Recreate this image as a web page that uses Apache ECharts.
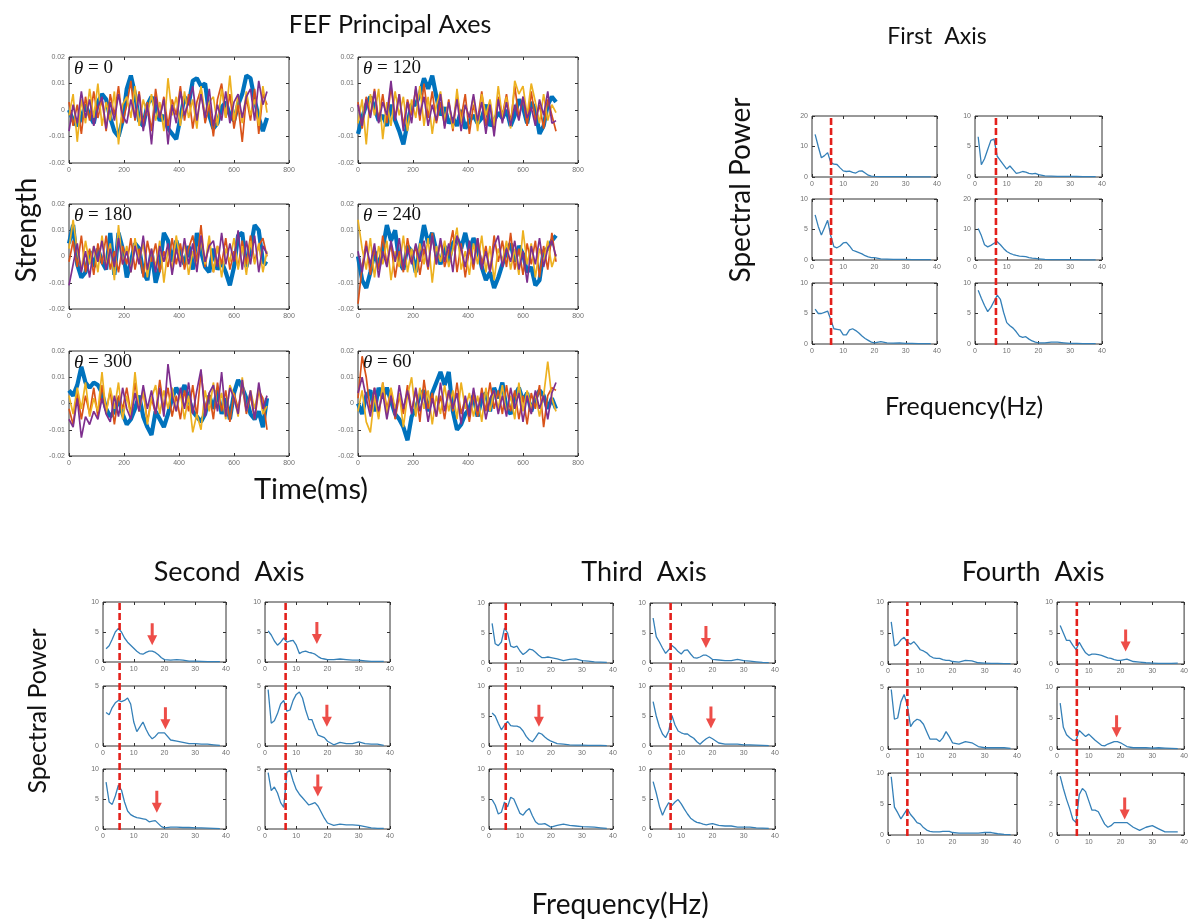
<!DOCTYPE html>
<html><head><meta charset="utf-8">
<script src="https://cdn.jsdelivr.net/npm/echarts@6/dist/echarts.min.js"></script>
<style>html,body{margin:0;padding:0;background:#fff}#c{width:1191px;height:920px}</style>
</head><body><div id="c"></div><script>
// ---------- DATA ----------
// Sample times (ms) of the principal-axis traces
const TIMES = [0,15,30,45,60,75,90,105,120,135,150,165,180,195,210,225,240,255,270,285,300,315,330,345,360,375,390,405,420,435,450,465,480,495,510,525,540,555,570,585,600,615,630,645,660,675,690,705,720];
// Strength values in units of 0.001 (axis labels show the real value)
const t0Blue   = [0,-4,-6,-3,2,-2,-5, 3,6,4,-3,-8,-10,-4, 8,13,6,-4,-6,2,5, 1,-4,-2,-7,-9,-11,-3, 5,2,11,12,9,10,-2, -7,-5,1,3,-2,-4,2, 6,13,12,4,-3,-8,-3];
const t0Orange = [3,-6,2,-9,5,-4,7, -3,4,-8,6,-2,9,-5, 2,11,-4,7,-6,3,-8, 8,-3,5,-6,4,-2,9, -4,6,-7,3,8,-5,2, -10,4,10,-3,6,-7,2, -12,5,-4,8,-9,6,2];
const t0Yellow = [-2,6,-12,4,-5,8,-3, 10,-6,3,-4,7,-13,2, 5,-3,9,-6,4,-2,6, -4,3,-8,12,-2,5,-6, 7,-3,4,-7,9,-2,3, 5,-6,8,-3,13,-4,6, -5,7,-2,4,-6,9,-1];
const t0Purple = [-8,2,-5,7,-3,4,-6, 1,5,-7,3,-4,6,-2, -5,4,-3,6,-8,2,-13, 5,-3,4,-13,2,-5,7, -2,3,9,-4,6,-3,8, -6,2,-4,7,-5,3,6, -3,5,8,-4,11,2,7];

const t120Blue   = [-9,-3,2,5,1,-4,-2, -6,2,-4,-8,-13,-5,2, 2,6,12,8,13,5,-2, 1,-5,-3,-6,0,-7,-4, -2,-5,-3,2,-6,-4,-1, -3,0,-6,-2,4,1,-5, 3,0,-9,-6,2,5,3];
const t120Orange = [3,-7,5,-2,8,-4,6, -5,9,-3,6,-6,4,-2, 8,-4,10,-3,7,-5,3, -6,4,-8,5,-3,6,-9, 2,-4,7,-6,3,-8,5, -2,6,-5,9,-3,5,-6, 7,-4,2,-7,4,-2,-8];
const t120Yellow = [-5,4,-13,6,-2,8,-11, 3,-6,7,-2,5,-8,4, -3,9,-6,5,-9,2,7, -4,3,-7,8,-5,2,-3, 5,-8,6,-2,4,-6,9, -3,5,-7,11,6,9,-2, 10,3,-5,6,-4,2,-1];
const t120Purple = [2,-6,4,-3,7,-5,3, -2,11,-4,6,-8,3,-5, 9,-2,5,-6,2,-4,6, -7,3,-5,4,-8,2,-3, 6,-4,3,-9,2,-10,4, -5,3,-6,2,-4,5,-3, 1,-6,4,-2,7,-5,-4];

const t180Blue   = [5,12,-3,-8,-6,2,-4, 3,-2,-5,9,-7,9,3, -8,-2,5,3,-6,-9,2, -10,-4,9,6,-2,6,1, -3,4,-5,9,2,-4,-6, 3,-5,-2,-6,-11,-4,8, 9,-4,3,12,10,-2,-3];
const t180Orange = [-2,6,-4,8,-6,3,-7, 5,-3,8,-5,2,-6,4, -3,7,-5,3,-8,6,-2, 5,-6,2,-4,7,-3,5, -5,3,8,-2,12,-4,6, -6,4,-3,7,-5,2,-4, 6,-3,8,-2,4,7,0];
const t180Yellow = [3,14,2,-5,6,-3,4, -6,8,-4,5,-9,12,-3, 4,-6,7,-2,5,-8,3, -4,6,-10,3,-5,8,-2, 5,-7,2,-4,6,-3,8, -6,4,-8,3,-2,7,-5, 4,-7,6,-3,5,-6,2];
const t180Purple = [-11,-3,5,-6,2,-8,4, -2,6,-5,3,-4,7,-3, 2,-6,4,-3,8,-5,3, -6,4,-2,5,-7,3,-4, 7,-3,5,-6,8,-2,4, 6,-4,9,-3,5,-2,10, -5,6,-3,8,-6,4,1];

const t240Blue   = [0,-9,-12,-6,2,-4,3, 12,6,10,-2,-5,4,2, -6,3,12,5,9,2,-3, 4,-2,5,7,3,9,2, 7,3,-4,-9,-6,-12,-8, -3,2,5,-2,4,1,-6, -4,-11,-9,2,3,6,8];
const t240Orange = [-18,-4,6,-7,3,-5,8, -3,5,-8,2,-6,7,-2, 4,-7,3,-5,9,-3,6, -4,2,10,-6,5,-8,3, -5,7,-3,4,-6,8,-2, 6,-4,9,-5,3,-7,5, -3,6,-8,4,-5,9,-2];
const t240Yellow = [14,3,-5,7,-8,4,-3, 6,-9,2,-4,8,-6,3, -8,5,-3,7,-10,4,-2, 6,-4,3,11,-5,2,-7, 5,-3,8,-6,4,-9,3, -2,6,-5,3,-7,10,-3, 5,-8,3,-2,6,-4,1];
const t240Purple = [2,-6,4,-3,5,-8,2, -4,6,-2,7,-5,3,-3, 5,-2,6,-4,8,-3,7, -2,5,-6,8,3,-4,6, -3,7,-5,2,-6,4,8, -4,3,-2,6,-5,2,-10, 4,-3,7,-4,3,6,0];

const t300Blue   = [5,3,7,14,8,6,8, 7,4,-2,-5,-3,2,-4, -8,-6,-2,3,-5,-9,-12, -3,-6,-9,-4,2,6,3, 7,2,-3,-5,-7,-4,3, -2,5,-4,2,-6,4,9, 6,2,-4,-6,-3,-9,2];
const t300Orange = [-2,-8,4,-6,3,-4,6, -5,7,-3,5,-8,3,-2, 6,-4,8,-3,5,-7,2, -4,9,-2,6,-5,3,-6, 5,-3,7,-5,12,-2,4, -6,8,-3,5,-7,4,-2, 7,-4,3,-6,5,2,-10];
const t300Yellow = [3,-4,6,-2,8,-5,2, -3,12,-4,6,-2,8,-6, 3,-5,12,-3,5,-8,2, 7,-4,5,-2,6,-3,4, -6,3,-11,-4,-10,5,-3, 8,-2,4,-6,7,3,-5, 10,-3,5,-2,6,-4,-1];
const t300Purple = [-6,-9,2,-13,-5,-8,-3, -6,2,-4,-7,3,-5,6, -2,-6,4,-3,7,-2,5, -4,6,-5,15,3,-3,6, -2,8,-4,5,13,-5,4, 7,-3,12,-5,6,2,-4, 9,-3,5,-6,8,-2,3];

const t60Blue   = [0,-4,3,5,-3,6,2, 6,1,-4,-6,-9,-14,-5, -2,3,5,-3,4,8,12, 7,12,-3,-10,-8,-4,-2, 3,-5,2,4,-3,6,2, 8,-2,-4,3,6,1,4, -3,2,5,3,-2,2,-2];
const t60Orange = [2,18,10,-3,6,-5,8, -2,5,-6,3,-4,7,-3, 5,-7,9,-2,4,-5,3, -6,5,-3,8,-4,2,-7, 4,-5,6,-3,8,-2,5, -4,7,-3,5,-6,3,-8, 4,-2,7,-9,3,6,5];
const t60Yellow = [-3,5,-7,-11,3,-6,8, -4,6,-2,4,-9,3,10, -5,6,-2,5,-8,3,-4, 7,-3,5,-6,8,-2,4, -5,3,-7,6,-3,5,-2, 7,-4,3,-6,8,-3,5, -2,4,-5,3,16,2,-3];
const t60Purple = [4,10,2,-5,6,-3,4, -6,3,-5,7,-2,5,-4, 6,-3,4,-7,2,-5,8, -3,5,-2,4,-8,3,-5, 6,-3,4,-6,2,5,-4, 3,-5,6,-2,4,-7,3, -4,5,-2,3,-6,4,8];

// Frequencies (Hz) of the spectra
const FREQ = [1,2,3,4,5,6,7,8,9,10,11,12,13,14,15,16,17,18,19,20,22,24,26,28,30,32,34,36,38];
// Spectral power: panels in reading order TL, TR, ML, MR, BL, BR
const firstTL = [14,10,6.3,7,8,4.8,4.2,4.1,3,2, 1.8,1.9,1.5,1.3,1.9,2,1.3,0.6,0.3,0.2, 0.15,0.1,0.1,0.1,0.08,0.05,0.05,0.05,0.05];
const firstTR = [6.6,2.0,3.0,4.5,6.0,6.2,3.4,2.7,2.0,1.3, 1.8,1.2,0.6,0.7,0.9,0.8,0.6,0.5,0.6,0.4, 0.2,0.15,0.1,0.1,0.1,0.08,0.05,0.05,0.05];
const firstML = [7.4,5.5,4.1,5.3,6.5,4.0,2.2,2.0,2.3,2.8, 2.9,2.3,1.6,1.4,1.2,1.0,0.7,0.5,0.4,0.4, 0.2,0.15,0.1,0.1,0.1,0.05,0.05,0.05,0.05];
const firstMR = [10.3,8,5,4.3,4.8,5.5,6,5,3.8,2.8, 2.2,1.8,1.5,1.3,1.2,1.1,0.8,0.6,0.5,0.4, 0.2,0.15,0.1,0.1,0.1,0.1,0.05,0.05,0.05];
const firstBL = [5.7,5.0,5.0,5.2,5.4,4.0,2.5,2.4,2.3,1.5, 1.5,2.3,2.5,2.2,1.8,1.3,0.9,0.6,0.3,0.2, 0.4,0.2,0.15,0.2,0.1,0.1,0.05,0.05,0.05];
const firstBR = [8.8,7.5,6.3,5.3,6.0,7.0,8.0,7.3,5.2,3.5, 3.0,2.6,2.0,1.3,1.1,1.2,0.8,0.5,0.3,0.2, 0.2,0.3,0.3,0.2,0.1,0.1,0.05,0.05,0.05];

const secondTL = [2.2,2.7,3.8,5.0,5.6,5.0,4.0,3.3,2.8,2.3, 1.8,1.4,1.3,1.6,1.8,1.8,1.6,1.2,0.7,0.4, 0.3,0.4,0.3,0.15,0.15,0.1,0.05,0.05,0.05];
const secondTR = [5.2,4.5,3.5,2.8,3.3,4.0,3.3,3.5,3.6,2.8, 1.4,1.7,1.8,1.6,1.5,1.3,0.9,0.6,0.5,0.4, 0.4,0.5,0.4,0.3,0.3,0.2,0.1,0.1,0.1];
const secondML = [2.8,2.6,3.2,3.6,3.8,3.7,3.8,4.0,3.5,2.0, 1.2,1.6,2.0,1.4,0.9,0.6,0.8,1.1,1.1,1.1, 0.5,0.4,0.3,0.2,0.2,0.15,0.15,0.1,0.05];
const secondMR = [4.7,1.9,2.1,2.7,3.5,3.8,2.9,3.0,3.8,4.3, 4.5,4.0,3.0,2.2,2.2,1.5,0.9,0.8,0.7,0.4, 0.1,0.3,0.2,0.2,0.35,0.2,0.15,0.15,0.05];
const secondBL = [7.8,4.5,4.1,5.5,7.3,6.5,4.5,3.0,2.4,2.1, 1.9,1.8,1.7,1.6,1.2,1.3,1.4,0.9,0.4,0.2, 0.3,0.3,0.25,0.25,0.2,0.2,0.15,0.1,0.05];
const secondBR = [4.7,3.2,3.5,3.0,2.2,1.8,4.7,4.9,4.0,3.3, 2.9,2.6,2.3,2.0,2.1,2.2,1.9,1.4,0.9,0.5, 0.3,0.4,0.35,0.35,0.3,0.2,0.1,0.05,0.05];

const thirdTL = [6.6,3.2,2.9,3.5,5.8,5.0,2.8,2.6,2.8,2.0, 1.4,1.8,2.3,2.2,1.8,1.3,0.9,0.9,1.0,0.9, 0.7,0.4,0.6,0.7,0.4,0.3,0.2,0.15,0.1];
const thirdTR = [7.5,4.4,3.5,2.5,1.6,2.2,2.9,2.5,1.9,1.5, 2.1,2.2,1.5,0.9,0.8,1.0,1.3,1.3,1.0,0.6, 0.5,0.4,0.4,0.6,0.4,0.3,0.2,0.1,0.05];
const thirdML = [5.5,5.0,3.8,2.7,3.5,4.1,3.4,3.3,3.3,3.1, 2.5,1.6,1.0,0.7,1.4,2.2,2.0,1.5,1.1,0.8, 0.4,0.3,0.2,0.15,0.15,0.1,0.1,0.1,0.05];
const thirdMR = [7.4,5.0,3.2,2.0,1.4,2.5,5.1,3.5,2.5,2.2, 2.0,2.0,1.6,1.3,0.7,0.3,0.8,1.2,1.5,1.2, 0.5,0.3,0.3,0.3,0.2,0.2,0.15,0.1,0.05];
const thirdBL = [4.9,4.0,2.5,2.8,4.5,3.7,5.3,5.0,3.8,2.6, 2.3,3.0,3.4,2.2,1.2,0.8,0.8,0.9,0.6,0.3, 0.6,0.8,0.6,0.5,0.4,0.35,0.3,0.2,0.1];
const thirdBR = [7.9,6.0,3.8,2.3,3.5,4.4,3.9,4.5,4.9,4.2, 3.3,2.5,1.8,1.4,1.1,1.0,0.8,0.7,0.8,0.9, 0.6,0.5,0.5,0.3,0.3,0.3,0.2,0.15,0.1];

const fourthTL = [6.8,2.9,3.2,3.9,4.3,3.5,3.2,3.6,3.0,2.3, 2.1,1.8,1.3,1.0,0.9,0.9,0.7,0.6,0.6,0.4, 0.3,0.6,0.5,0.2,0.15,0.1,0.1,0.05,0.05];
const fourthTR = [6.2,5.0,3.8,3.8,3.0,2.3,3.5,2.6,1.8,1.4, 1.6,1.6,1.5,1.4,1.2,1.0,0.9,0.7,0.6,0.6, 0.8,0.4,0.3,0.2,0.15,0.1,0.1,0.1,0.15];
const fourthML = [4.8,2.4,2.5,3.8,4.4,3.5,1.8,2.2,2.4,2.3, 2.0,1.4,0.8,0.8,0.8,0.6,0.9,1.4,1.0,0.5, 0.4,0.6,0.5,0.2,0.1,0.1,0.1,0.1,0.05];
const fourthMR = [7.4,3.5,2.3,1.8,1.4,1.4,3.0,2.5,2.0,2.4, 1.9,1.4,1.0,0.6,0.5,0.8,1.0,1.2,1.2,1.0, 0.4,0.2,0.2,0.2,0.15,0.2,0.15,0.1,0.05];
const fourthBL = [9.4,4.5,3.6,2.6,3.4,4.2,3.3,2.7,2.0,1.8, 1.2,0.8,0.6,0.5,0.5,0.5,0.6,0.6,0.6,0.4, 0.3,0.3,0.3,0.3,0.4,0.4,0.2,0.1,0.05];
const fourthBR = [3.8,3.0,2.3,1.7,1.0,0.8,2.6,3.0,2.8,2.2, 1.6,1.6,1.5,1.1,0.7,0.5,0.6,0.8,0.8,0.8, 0.8,0.5,0.3,0.5,0.6,0.4,0.2,0.2,0.2];

// y-axis maxima of each spectral panel
const firstYMax  = [20,10,10,20,10,10];
const secondYMax = [10,10,5,5,10,5];
const thirdYMax  = [10,10,10,10,10,10];
const fourthYMax = [10,10,5,10,10,4];
// red dashed reference frequency (left column, right column)
const firstRed  = [6.1,6.6];
const secondRed = [5.4,6.6];
const thirdRed  = [5.4,6.6];
const fourthRed = [6.0,6.2];
// red arrows: [frequency, arrow tip value] per panel (null = none)
const secondArrows = [[16,2.8],[16.6,3.0],[20.3,1.4],[19.8,1.6],[17.5,2.7],[16.9,2.7]];
const thirdArrows  = [null,[17.9,2.5],[16.1,3.2],[19.5,2.9],null,null];
const fourthArrows = [null,[21.6,2.0],null,[18.75,1.9],null,[21.3,1.0]];

// ---------- LAYOUT / STYLE ----------
const TS_STYLE = [{c:'#0072BD',w:4.2},{c:'#D95319',w:1.7},{c:'#EDB120',w:1.7},{c:'#7E2F8E',w:1.7}];
const timePanels = [
  {label:'0',   box:[69,57,220,106],  lines:[t0Blue,t0Orange,t0Yellow,t0Purple]},
  {label:'120', box:[358,57,220,106], lines:[t120Blue,t120Orange,t120Yellow,t120Purple]},
  {label:'180', box:[69,204,220,105], lines:[t180Blue,t180Orange,t180Yellow,t180Purple]},
  {label:'240', box:[358,204,220,105],lines:[t240Blue,t240Orange,t240Yellow,t240Purple]},
  {label:'300', box:[69,351,220,105], lines:[t300Blue,t300Orange,t300Yellow,t300Purple]},
  {label:'60',  box:[358,351,220,105],lines:[t60Blue,t60Orange,t60Yellow,t60Purple]}
];
const specGroups = [
  {cols:[812,975], widths:[125,127], rows:[116,199,283], h:61,
   panels:[firstTL,firstTR,firstML,firstMR,firstBL,firstBR], ymax:firstYMax, red:firstRed, arrows:[null,null,null,null,null,null]},
  {cols:[103,265], widths:[123,125], rows:[602,686,769], h:60,
   panels:[secondTL,secondTR,secondML,secondMR,secondBL,secondBR], ymax:secondYMax, red:secondRed, arrows:secondArrows},
  {cols:[489,650], widths:[124,125], rows:[603,686,769], h:60,
   panels:[thirdTL,thirdTR,thirdML,thirdMR,thirdBL,thirdBR], ymax:thirdYMax, red:thirdRed, arrows:thirdArrows},
  {cols:[888,1057], widths:[129,128], rows:[602,687,773], h:62,
   panels:[fourthTL,fourthTR,fourthML,fourthMR,fourthBL,fourthBR], ymax:fourthYMax, red:fourthRed, arrows:fourthArrows}
];
const YINT = {20:10,10:5,5:5,4:2};
const TICK_LABEL = {fontSize:7,color:'#707070',fontFamily:'Liberation Sans'};
const FONT = 'Lato';

const grid=[],xAxis=[],yAxis=[],series=[],graphic=[];

function addPanel(box, xs, ys) {
  const gi = grid.length;
  grid.push({left:box[0],top:box[1],width:box[2],height:box[3],show:true,borderColor:'#333',borderWidth:1,backgroundColor:'transparent'});
  const tick = {show:true,inside:true,length:3,lineStyle:{color:'#333',width:1}};
  const xb = {gridIndex:gi,type:'value',min:xs.min,max:xs.max,interval:xs.interval,axisLine:{show:false,onZero:false},splitLine:{show:false},axisTick:tick};
  const xi = xAxis.length;
  xAxis.push(Object.assign({},xb,{position:'bottom',axisLabel:Object.assign({},TICK_LABEL,{margin:4})}));
  xAxis.push(Object.assign({},xb,{position:'top',axisLabel:{show:false}}));
  const yb = {gridIndex:gi,type:'value',min:ys.min,max:ys.max,interval:ys.interval,axisLine:{show:false,onZero:false},splitLine:{show:false},axisTick:tick};
  const yi = yAxis.length;
  const yl = Object.assign({},TICK_LABEL,{margin:4});
  if (ys.fmt) yl.formatter = ys.fmt;
  yAxis.push(Object.assign({},yb,{position:'left',axisLabel:yl}));
  yAxis.push(Object.assign({},yb,{position:'right',axisLabel:{show:false}}));
  return {xi, yi};
}

// time-series panels
timePanels.forEach(p=>{
  const ax = addPanel(p.box,{min:0,max:800,interval:200},{min:-20,max:20,interval:10,fmt:v=>v===0?'0':(v/1000).toFixed(2)});
  p.lines.forEach((vals,k)=>{
    series.push({type:'line',xAxisIndex:ax.xi,yAxisIndex:ax.yi,silent:true,showSymbol:false,symbol:'none',
      data:vals.map((v,i)=>[TIMES[i],v]),lineStyle:{color:TS_STYLE[k].c,width:TS_STYLE[k].w},z:2+k});
  });
  graphic.push({type:'text',x:p.box[0]+5,y:p.box[1]+2,z:100,silent:true,
    style:{text:'{i|θ} = '+p.label,fill:'#111',fontFamily:'Liberation Serif',fontSize:19,
      rich:{i:{fontStyle:'italic',fontFamily:'Liberation Serif',fontSize:19,fill:'#111'}},
      align:'left',verticalAlign:'top',textAlign:'left',textVerticalAlign:'top'}});
});

// spectral panels
const ARROW = 'path://M3.5,0L6.5,0L6.5,12L10,12L5,22L0,12L3.5,12Z';
specGroups.forEach(g=>{
  g.panels.forEach((vals,k)=>{
    const col = k%2, row = Math.floor(k/2);
    const box = [g.cols[col], g.rows[row], g.widths[col], g.h];
    const ym = g.ymax[k];
    const ax = addPanel(box,{min:0,max:40,interval:10},{min:0,max:ym,interval:YINT[ym]});
    series.push({type:'line',xAxisIndex:ax.xi,yAxisIndex:ax.yi,silent:true,showSymbol:false,symbol:'none',
      data:vals.map((v,i)=>[FREQ[i],v]),lineStyle:{color:'#3580b8',width:1.3},z:3});
    const a = g.arrows[k];
    if (a) {
      series.push({type:'scatter',xAxisIndex:ax.xi,yAxisIndex:ax.yi,silent:true,data:[a],
        symbol:ARROW,symbolSize:[10,22],symbolOffset:[0,'-50%'],itemStyle:{color:'#E8201A'},z:20});
    }
  });
  // overlay grids carrying the dashed red reference line through each column
  [0,1].forEach(col=>{
    const gi = grid.length;
    const top = g.rows[0], bottom = g.rows[2]+g.h+1;
    grid.push({left:g.cols[col],top:top,width:g.widths[col],height:bottom-top,show:false});
    const xi = xAxis.length, yi = yAxis.length;
    xAxis.push({gridIndex:gi,type:'value',min:0,max:40,show:false});
    yAxis.push({gridIndex:gi,type:'value',min:0,max:1,show:false});
    series.push({type:'line',xAxisIndex:xi,yAxisIndex:yi,silent:true,showSymbol:false,symbol:'none',
      data:[[g.red[col],0],[g.red[col],1]],lineStyle:{color:'#E3201B',width:2.6,type:[7,3]},z:15});
  });
});

// titles and axis captions
function txt(t,x,y,size,rot){
  const el = {type:'text',x:x,y:y,z:100,silent:true,
    style:{text:t,fill:'#111',fontFamily:FONT,fontSize:size,align:'center',verticalAlign:'middle',textAlign:'center',textVerticalAlign:'middle'}};
  if (rot) el.rotation = Math.PI/2;
  graphic.push(el);
}
txt('FEF Principal Axes',390,25,25);
txt('First  Axis',937,37,23);
txt('Strength',27,230,28,true);
txt('Time(ms)',311,490,29);
txt('Spectral Power',741,190,28,true);
txt('Frequency(Hz)',964,407,25);
txt('Second  Axis',229,572,27);
txt('Third  Axis',644,572,27);
txt('Fourth  Axis',1033,572,27);
txt('Spectral Power',38,711,25,true);
txt('Frequency(Hz)',620,905,28);

const chart = echarts.init(document.getElementById('c'),null,{renderer:'canvas'});
chart.setOption({backgroundColor:'#fff',animation:false,grid,xAxis,yAxis,series,graphic});
</script></body></html>
